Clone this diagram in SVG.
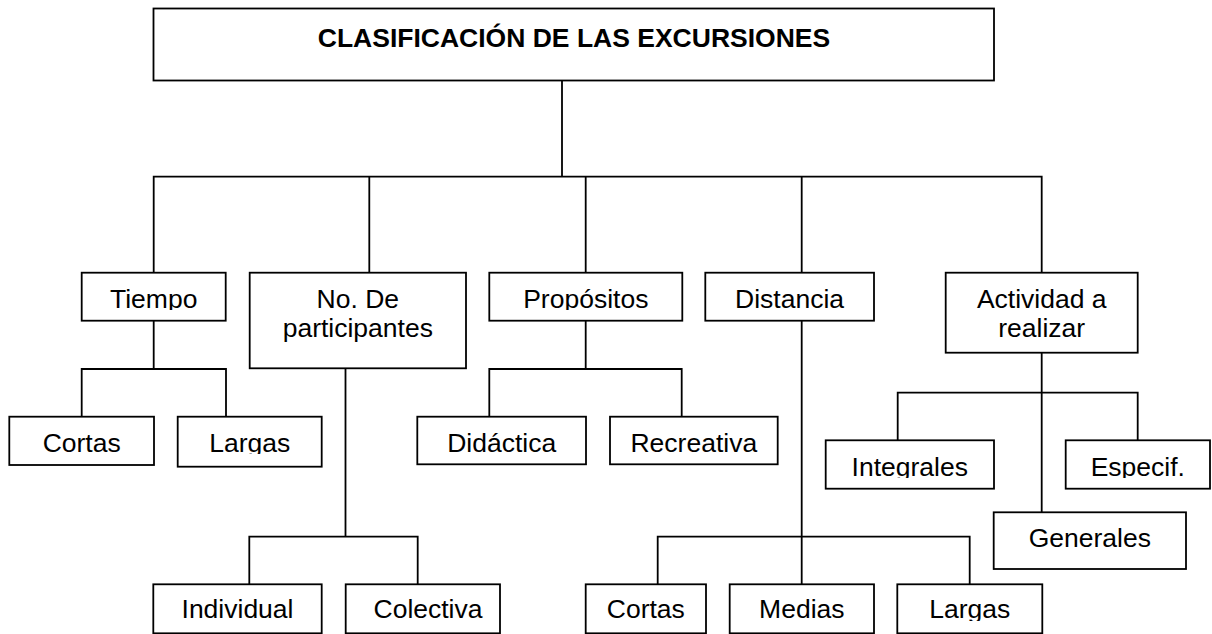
<svg xmlns="http://www.w3.org/2000/svg" width="1212" height="634" viewBox="0 0 1212 634">
<style>
.b{fill:#fff;stroke:#000;stroke-width:1.8}
.t{font-family:"Liberation Sans",Arial,sans-serif;font-size:26.5px;fill:#000;text-anchor:middle}
.h{font-weight:bold}
.c{fill:none;stroke:#000;stroke-width:1.8}
</style>
<defs>
<clipPath id="cTiempo"><rect x="82" y="273" width="143" height="37"/></clipPath>
<clipPath id="cProp"><rect x="490" y="273" width="192" height="37"/></clipPath>
<clipPath id="cLargas1"><rect x="178" y="417" width="143" height="37"/></clipPath>
<clipPath id="cLargas2"><rect x="898" y="585" width="144" height="36"/></clipPath>
<clipPath id="cInteg"><rect x="826" y="441" width="168" height="37"/></clipPath>
<clipPath id="cEsp"><rect x="1066" y="441" width="145" height="37"/></clipPath>
</defs>
<rect width="1212" height="634" fill="#fff"/>
<g id="connectors">
<path class="c" d="M562 80V176.7M153.7 272.7V176.7H1041.7V272.7M369.3 176.7V272.7M585.7 176.7V272.7M801.7 176.7V272.7"/>
<path class="c" d="M153.7 320.7V369M81.7 416.7V369H226V416.7"/>
<path class="c" d="M345.5 368.3V536.7M249.3 584.3V536.7H417.7V584.3"/>
<path class="c" d="M585.7 320.7V369M489.3 416.7V369H681.7V416.7"/>
<path class="c" d="M801.7 320.7V584.3M657.7 584.3V536.7H969.7V584.3"/>
<path class="c" d="M1041.7 344V512.3M897.7 440.3V392.7H1137.7V440.3"/>
</g>
<g id="n-title"><rect class="b" x="153.5" y="8.5" width="840.5" height="72" stroke-width="2.2"/><text class="t h" x="574" y="47">CLASIFICACIÓN DE LAS EXCURSIONES</text></g>
<g id="n-tiempo"><rect class="b" x="81.7" y="272.7" width="144" height="48"/><text class="t" x="153.7" y="307.7" clip-path="url(#cTiempo)">Tiempo</text></g>
<g id="n-participantes"><rect class="b" x="249.7" y="272.7" width="216.3" height="95.6"/><text class="t" x="357.8" y="307.7">No. De</text><text class="t" x="357.8" y="336.7">participantes</text></g>
<g id="n-propositos"><rect class="b" x="489.3" y="272.7" width="193" height="48"/><text class="t" x="585.8" y="307.7" clip-path="url(#cProp)">Propósitos</text></g>
<g id="n-distancia"><rect class="b" x="705.3" y="272.7" width="168.7" height="48"/><text class="t" x="789.6" y="307.7">Distancia</text></g>
<g id="n-actividad"><rect class="b" x="945.7" y="272.7" width="192" height="80"/><text class="t" x="1041.7" y="307.7">Actividad a</text><text class="t" x="1041.7" y="336.7">realizar</text></g>
<g id="n-cortas1"><rect class="b" x="9.3" y="416.7" width="144.7" height="48.3"/><text class="t" x="81.7" y="451.7">Cortas</text></g>
<g id="n-largas1"><rect class="b" x="177.7" y="416.7" width="144" height="50"/><text class="t" x="249.7" y="451.7" clip-path="url(#cLargas1)">Largas</text></g>
<g id="n-didactica"><rect class="b" x="417.3" y="416.7" width="168.7" height="47.6"/><text class="t" x="501.7" y="451.7">Didáctica</text></g>
<g id="n-recreativa"><rect class="b" x="610" y="416.7" width="167.7" height="47.6"/><text class="t" x="693.8" y="451.7">Recreativa</text></g>
<g id="n-integrales"><rect class="b" x="825.7" y="440.3" width="168.3" height="48.4"/><text class="t" x="909.8" y="475.7" clip-path="url(#cInteg)">Integrales</text></g>
<g id="n-especif"><rect class="b" x="1065.7" y="440.3" width="144.3" height="48.4"/><text class="t" x="1137.8" y="475.7" clip-path="url(#cEsp)">Especif.</text></g>
<g id="n-generales"><rect class="b" x="993.7" y="512.3" width="192.3" height="56.7"/><text class="t" x="1089.8" y="546.7">Generales</text></g>
<g id="n-individual"><rect class="b" x="153.3" y="584.3" width="168.4" height="49"/><text class="t" x="237.5" y="618.3">Individual</text></g>
<g id="n-colectiva"><rect class="b" x="345.7" y="584.3" width="154.3" height="49"/><text class="t" x="428" y="618.3">Colectiva</text></g>
<g id="n-cortas2"><rect class="b" x="585.7" y="584.3" width="120.3" height="49"/><text class="t" x="645.8" y="618.3">Cortas</text></g>
<g id="n-medias"><rect class="b" x="729.7" y="584.3" width="144.3" height="49"/><text class="t" x="801.8" y="618.3">Medias</text></g>
<g id="n-largas2"><rect class="b" x="897.3" y="584.3" width="145" height="49"/><text class="t" x="969.8" y="618.3" clip-path="url(#cLargas2)">Largas</text></g>
</svg>
